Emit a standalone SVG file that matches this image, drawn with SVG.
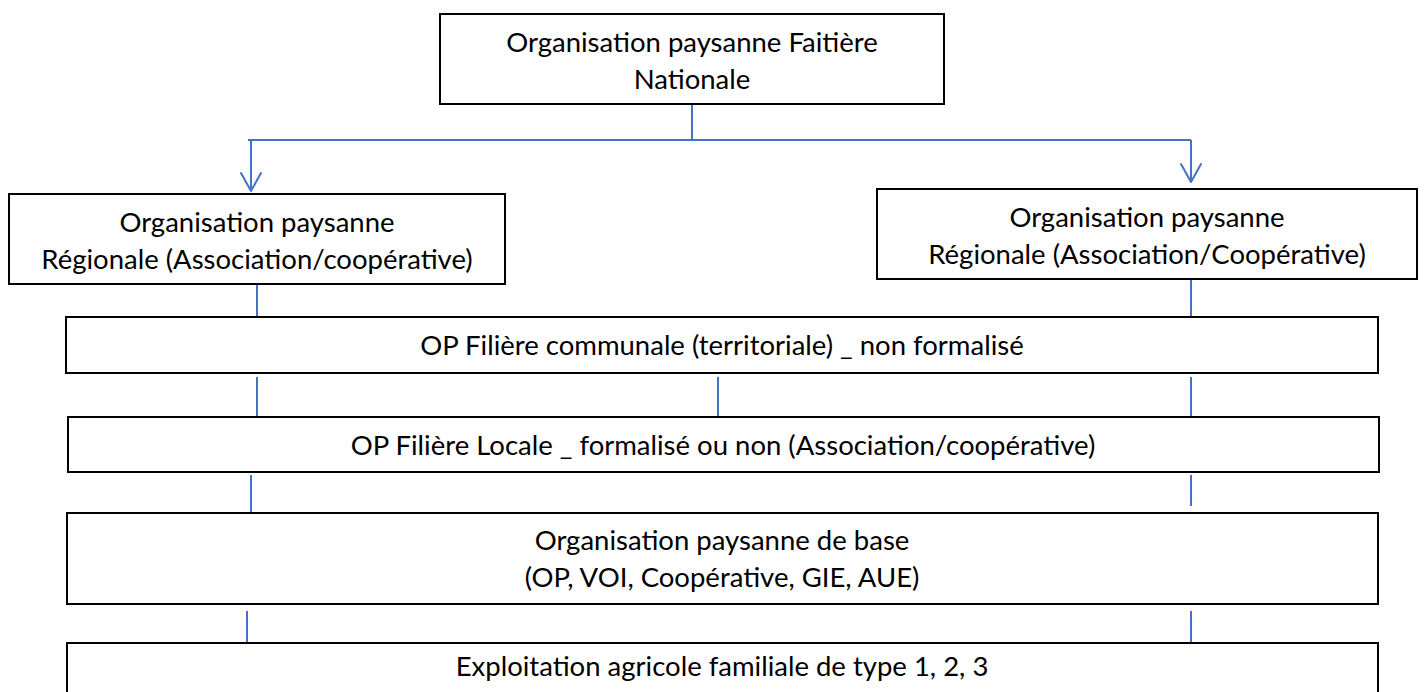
<svg xmlns="http://www.w3.org/2000/svg" width="1424" height="692" viewBox="0 0 1424 692">
  <style>
    .box { fill: #ffffff; stroke: #000000; stroke-width: 2; }
    .lbl { font-family: Lato, "Liberation Sans", sans-serif; font-size: 27.5px; fill: #000000; text-anchor: middle; }
    .link { fill: none; stroke: #4472C4; stroke-width: 2; }
  </style>
  <defs>
    <marker id="vee" markerUnits="userSpaceOnUse" viewBox="-20 -12 22 24" markerWidth="22" markerHeight="24" refX="0" refY="0" orient="auto">
      <path d="M-18,-10 L0,0 L-18,10" fill="none" stroke="#4472C4" stroke-width="2" stroke-linecap="round" stroke-linejoin="round"/>
    </marker>
  </defs>
  <rect width="1424" height="692" fill="#ffffff"/>

  <!-- connectors -->
  <g id="connectors">
    <path class="link" d="M692,104 V140"/>
    <path class="link" d="M248,140 H1191"/>
    <path class="link" d="M251,140 V191" marker-end="url(#vee)"/>
    <path class="link" d="M1191,140 V182" marker-end="url(#vee)"/>
    <path class="link" d="M257,284 V317"/>
    <path class="link" d="M1191,279 V317"/>
    <path class="link" d="M257,377 V417"/>
    <path class="link" d="M718,377 V417"/>
    <path class="link" d="M1191,377 V417"/>
    <path class="link" d="M251,475 V513"/>
    <path class="link" d="M1191,475 V506"/>
    <path class="link" d="M247,611 V643"/>
    <path class="link" d="M1191,611 V643"/>
  </g>

  <!-- national umbrella organisation -->
  <g id="faitiere">
    <rect class="box" x="440" y="14" width="504" height="90"/>
    <text class="lbl" x="692" y="52">Organisation paysanne Faitière</text>
    <text class="lbl" x="692" y="89">Nationale</text>
  </g>

  <!-- regional organisations -->
  <g id="regionale-gauche">
    <rect class="box" x="9" y="194" width="496" height="90"/>
    <text class="lbl" x="257" y="232">Organisation paysanne</text>
    <text class="lbl" x="257" y="269">Régionale (Association/coopérative)</text>
  </g>
  <g id="regionale-droite">
    <rect class="box" x="877" y="189" width="540" height="90"/>
    <text class="lbl" x="1147" y="227">Organisation paysanne</text>
    <text class="lbl" x="1147" y="264">Régionale (Association/Coopérative)</text>
  </g>

  <!-- communal level -->
  <g id="communale">
    <rect class="box" x="66" y="317" width="1312" height="56"/>
    <text class="lbl" x="722" y="355">OP Filière communale (territoriale) _ non formalisé</text>
  </g>

  <!-- local level -->
  <g id="locale">
    <rect class="box" x="68" y="417" width="1311" height="55"/>
    <text class="lbl" x="723" y="455">OP Filière Locale _ formalisé ou non (Association/coopérative)</text>
  </g>

  <!-- grassroots organisations -->
  <g id="base">
    <rect class="box" x="67" y="513" width="1311" height="91"/>
    <text class="lbl" x="722" y="550">Organisation paysanne de base</text>
    <text class="lbl" x="722" y="587">(OP, VOI, Coopérative, GIE, AUE)</text>
  </g>

  <!-- family farms -->
  <g id="exploitation">
    <rect class="box" x="67" y="643" width="1311" height="60"/>
    <text class="lbl" x="722" y="676">Exploitation agricole familiale de type 1, 2, 3</text>
  </g>
</svg>
